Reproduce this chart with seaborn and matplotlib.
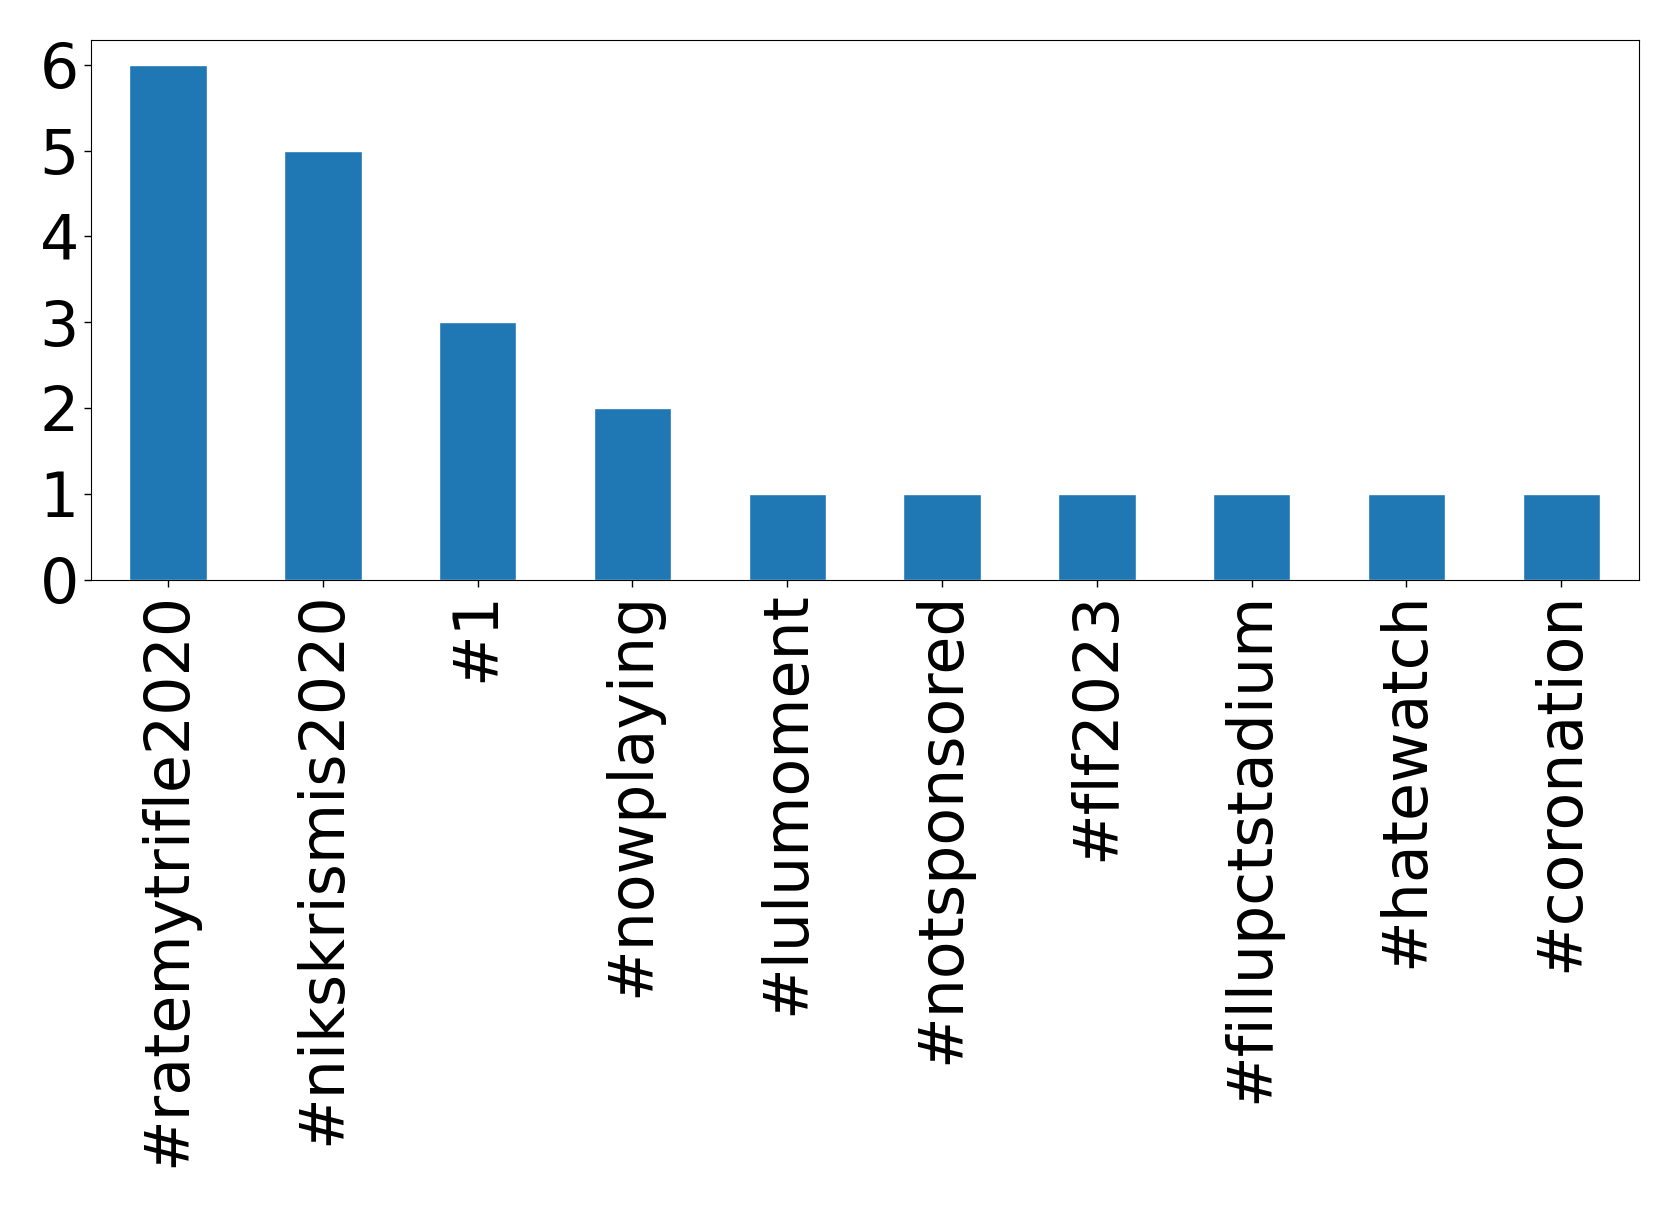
import matplotlib
matplotlib.use("Agg")
import matplotlib.pyplot as plt
import seaborn as sns
import pandas as pd

# hashtag counts
hashtags = ["#ratemytrifle2020", "#nikskrismis2020", "#1", "#nowplaying", "#lulumoment",
            "#notsponsored", "#flf2023", "#fillupctstadium", "#hatewatch", "#coronation"]
counts = [6, 5, 3, 2, 1, 1, 1, 1, 1, 1]
yticks = [0, 1, 2, 3, 4, 5, 6]

df = pd.DataFrame({"hashtag": hashtags, "count": counts})

sns.set_style("white")
plt.rcParams['font.family'] = ['DejaVu Sans']

fig, ax = plt.subplots(figsize=(16.79, 12.10), dpi=100)
fig.subplots_adjust(left=0.054, right=0.976, top=0.967, bottom=0.521)

sns.barplot(data=df, x="hashtag", y="count", color="#1f77b4", saturation=1,
            width=0.5, ax=ax)

ax.set_xlim(-0.5, 9.5)
ax.set_ylim(0, 6.29)
ax.set_yticks(yticks)
ax.set_xlabel("")
ax.set_ylabel("")
ax.tick_params(axis="x", labelrotation=90, labelsize=44.5, length=5, width=1,
               bottom=True, colors="black")
ax.tick_params(axis="y", labelsize=44.5, length=5, width=1, left=True, colors="black")
for s in ax.spines.values():
    s.set_color("black")
    s.set_linewidth(0.8)

fig.savefig("out.png", dpi=100)
